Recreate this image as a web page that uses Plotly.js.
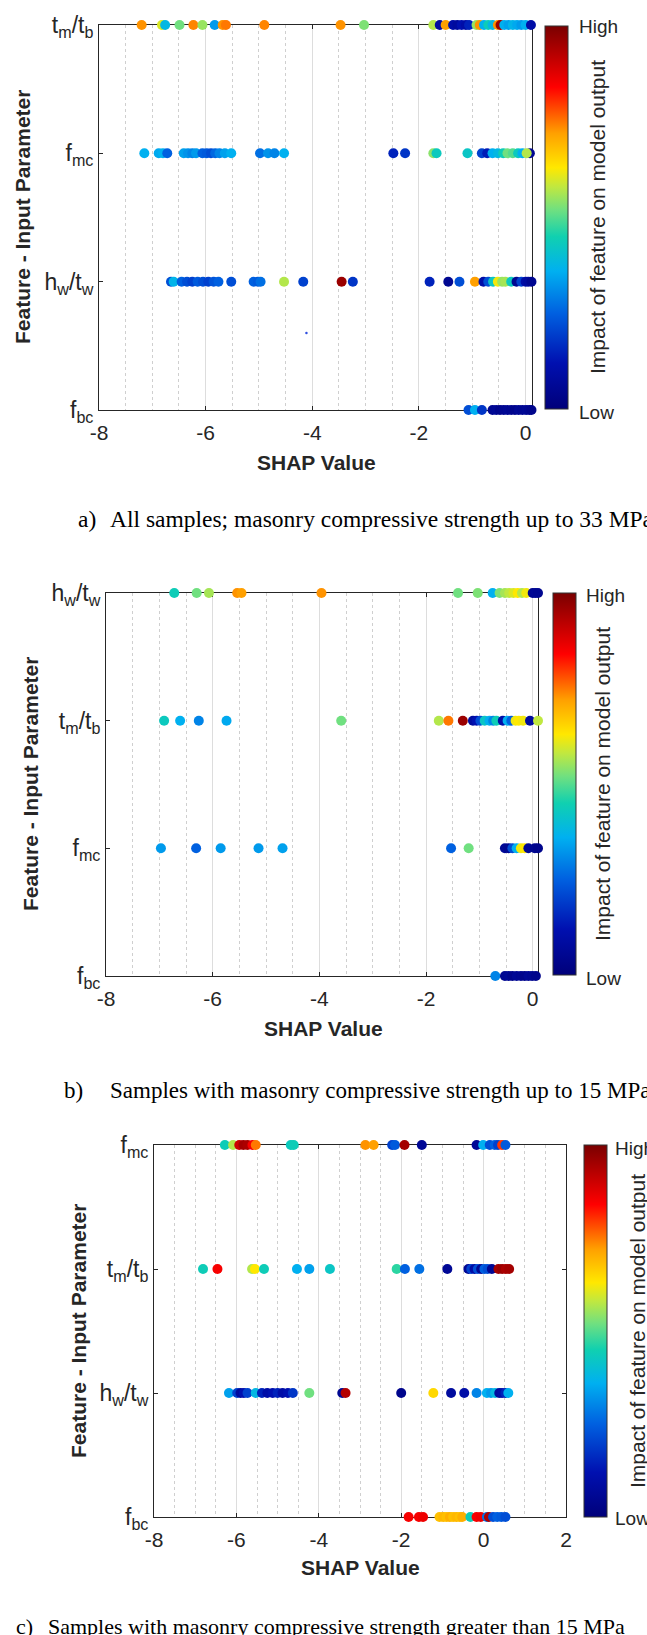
<!DOCTYPE html>
<html><head><meta charset="utf-8">
<script src="https://cdn.plot.ly/plotly-3.0.1.min.js"></script>
<style>html,body{margin:0;padding:0;background:#fff}#chart{width:647px;height:1635px}</style>
</head><body><div id="chart"></div>
<script>
// ---------- Panel a: all samples ----------
const aRows = ['f<sub>bc</sub>','h<sub>w</sub>/t<sub>w</sub>','f<sub>mc</sub>','t<sub>m</sub>/t<sub>b</sub>'];
const aFbcX = [-1.07,-0.95,-0.82,-0.62,-0.55,-0.48,-0.41,-0.34,-0.27,-0.2,-0.13,-0.06,0.01,0.07,0.11];
const aFbcC = [0.22,0.36,0.18,0.05,0.06,0.04,0.05,0.06,0.05,0.04,0.06,0.05,0.06,0.05,0.04];
const aHwTwX = [-6.65,-6.60,-6.45,-6.35,-6.25,-6.15,-6.05,-5.95,-5.85,-5.76,-5.52,-5.10,-5.02,-4.97,-4.53,-4.17,-3.45,-3.24,-1.80,-1.45,-1.24,-0.95,-0.79,-0.70,-0.61,-0.52,-0.44,-0.38,-0.27,-0.17,-0.08,0.0,0.05,0.11];
const aHwTwC = [0.22,0.37,0.25,0.22,0.2,0.24,0.22,0.2,0.23,0.25,0.22,0.25,0.24,0.27,0.57,0.2,0.96,0.18,0.15,0.05,0.22,0.72,0.1,0.22,0.42,0.62,0.55,0.56,0.43,0.05,0.2,0.1,0.08,0.05];
const aFmcX = [-7.15,-6.88,-6.80,-6.72,-6.41,-6.33,-6.25,-6.18,-6.06,-5.98,-5.90,-5.82,-5.74,-5.64,-5.52,-4.98,-4.83,-4.71,-4.53,-2.48,-2.26,-1.73,-1.67,-1.09,-0.82,-0.72,-0.62,-0.52,-0.42,-0.34,-0.24,-0.14,-0.06,0.08,0.02];
const aFmcC = [0.36,0.35,0.36,0.25,0.34,0.32,0.3,0.33,0.25,0.24,0.22,0.26,0.3,0.34,0.36,0.27,0.32,0.3,0.36,0.15,0.18,0.54,0.43,0.42,0.2,0.14,0.36,0.38,0.44,0.52,0.5,0.43,0.36,0.05,0.57];
const aTmTbX = [-7.20,-6.82,-6.76,-6.49,-6.23,-6.06,-5.83,-5.68,-5.62,-4.90,-3.47,-3.03,-1.73,-1.61,-1.50,-1.36,-1.28,-1.20,-1.12,-1.06,-0.92,-0.86,-0.78,-0.70,-0.62,-0.52,-0.47,-0.40,-0.32,-0.24,-0.16,-0.08,0.0,0.1];
const aTmTbC = [0.73,0.60,0.38,0.52,0.74,0.55,0.33,0.73,0.75,0.74,0.73,0.53,0.57,0.08,0.72,0.1,0.08,0.12,0.1,0.15,0.55,0.73,0.36,0.44,0.38,0.73,0.96,0.36,0.34,0.37,0.35,0.33,0.36,0.1];
const aStrayX = [-4.11];
const aStrayY = [1.6];

// ---------- Panel b: strength up to 15 MPa ----------
const bRows = ['f<sub>bc</sub>','f<sub>mc</sub>','t<sub>m</sub>/t<sub>b</sub>','h<sub>w</sub>/t<sub>w</sub>'];
const bFbcX = [-0.70,-0.52,-0.45,-0.38,-0.30,-0.22,-0.15,-0.08,-0.01,0.06,0.12,0.16];
const bFbcC = [0.3,0.05,0.06,0.04,0.06,0.05,0.04,0.06,0.05,0.04,0.05,0.06];
const bFmcX = [-6.97,-6.31,-5.85,-5.14,-4.69,-1.53,-1.20,-0.52,-0.45,-0.38,-0.30,-0.22,-0.15,-0.08,0.04,0.1];
const bFmcC = [0.33,0.25,0.33,0.33,0.34,0.25,0.52,0.06,0.05,0.22,0.36,0.62,0.63,0.06,0.05,0.04];
const bTmTbX = [-6.91,-6.61,-6.26,-5.74,-3.59,-1.76,-1.58,-1.31,-1.12,-1.05,-0.98,-0.90,-0.81,-0.74,-0.68,-0.56,-0.47,-0.40,-0.32,-0.26,-0.18,-0.05,0.1];
const bTmTbC = [0.43,0.36,0.3,0.35,0.52,0.57,0.75,0.96,0.08,0.12,0.22,0.42,0.36,0.3,0.44,0.1,0.36,0.25,0.62,0.63,0.62,0.08,0.58];
const bHwTwX = [-6.72,-6.30,-6.07,-5.54,-5.46,-3.96,-1.40,-1.03,-0.75,-0.62,-0.52,-0.44,-0.36,-0.28,-0.20,-0.12,0.0,0.05,0.1];
const bHwTwC = [0.44,0.52,0.56,0.73,0.72,0.73,0.52,0.53,0.36,0.53,0.56,0.58,0.6,0.63,0.57,0.62,0.05,0.06,0.05];

// ---------- Panel c: strength greater than 15 MPa ----------
const cRows = ['f<sub>bc</sub>','h<sub>w</sub>/t<sub>w</sub>','t<sub>m</sub>/t<sub>b</sub>','f<sub>mc</sub>'];
const cFbcX = [-1.82,-1.57,-1.47,-1.07,-0.98,-0.90,-0.82,-0.74,-0.66,-0.58,-0.52,-0.32,-0.17,-0.07,0.08,0.13,0.23,0.33,0.43,0.53];
const cFbcC = [0.85,0.85,0.86,0.68,0.69,0.68,0.7,0.68,0.69,0.68,0.7,0.44,0.85,0.86,0.27,0.94,0.22,0.25,0.24,0.22];
const cHwTwX = [-6.18,-5.98,-5.90,-5.82,-5.73,-5.53,-5.38,-5.25,-5.12,-5.00,-4.88,-4.75,-4.63,-4.23,-3.43,-3.35,-2.00,-1.22,-0.79,-0.47,-0.17,0.08,0.18,0.28,0.38,0.45,0.53,0.6];
const cHwTwC = [0.34,0.2,0.08,0.12,0.2,0.38,0.15,0.1,0.12,0.15,0.1,0.12,0.18,0.52,0.05,0.93,0.04,0.65,0.08,0.1,0.3,0.36,0.33,0.38,0.08,0.1,0.15,0.36];
const cTmTbX = [-6.81,-6.46,-5.62,-5.55,-5.33,-4.53,-4.23,-3.73,-2.11,-1.91,-1.56,-0.88,-0.37,-0.30,-0.22,-0.14,-0.06,0.02,0.1,0.2,0.36,0.45,0.54,0.62];
const cTmTbC = [0.44,0.85,0.57,0.63,0.44,0.36,0.34,0.42,0.47,0.25,0.27,0.06,0.06,0.2,0.1,0.22,0.06,0.25,0.22,0.06,0.95,0.96,0.94,0.95];
const cFmcX = [-6.28,-6.08,-5.93,-5.83,-5.73,-5.61,-5.53,-4.68,-4.61,-2.87,-2.67,-2.22,-2.15,-1.92,-1.50,-0.17,-0.01,0.15,0.27,0.35,0.45,0.53];
const cFmcC = [0.44,0.57,0.9,0.95,0.94,0.85,0.75,0.43,0.44,0.73,0.72,0.2,0.24,0.95,0.06,0.06,0.36,0.22,0.25,0.2,0.8,0.24];

// ---------- Tick labels and texts ----------
const abTickVals = [-8,-6,-4,-2,0];
const abTickText = ['-8','-6','-4','-2','0'];
const cTickVals = [-8,-6,-4,-2,0,2];
const cTickText = ['-8','-6','-4','-2','0','2'];
const yTitle = 'Feature - Input Parameter';
const xTitle = 'SHAP Value';
const cbTitle = 'Impact of feature on model output';
const captionLabels = ['a)','b)','c)'];
const captionTexts = ['All samples; masonry compressive strength up to 33 MPa',
                      'Samples with masonry compressive strength up to 15 MPa',
                      'Samples with masonry compressive strength greater than 15 MPa'];

// ---------- Layout helpers ----------
const W = 647, H = 1635;
const PX = x => x / W, PY = y => 1 - y / H;
const SANS = 'Liberation Sans, Arial, sans-serif';
const SERIF = 'Liberation Serif, Times New Roman, serif';
const TXT = '#262626';
const jet = [[0,'#00007a'],[0.12,'#0010b0'],[0.25,'#0060e0'],[0.36,'#00b0f0'],[0.45,'#10d0b0'],
             [0.52,'#70e080'],[0.58,'#c0e840'],[0.63,'#ffe800'],[0.72,'#ffa000'],[0.78,'#ff5000'],
             [0.84,'#ff0000'],[1,'#7a0000']];

const panels = [
  {rows:aRows, series:[[aFbcX,aFbcC],[aHwTwX,aHwTwC],[aFmcX,aFmcC],[aTmTbX,aTmTbC]], xr:[-8,0.12],
   tv:abTickVals, tt:abTickText,
   box:[99,532,25,410], cb:[545,26,409], hi:[577,27], lo:[577,413], yt:[23,217], xt:[316,462], ct:[598,217],
   cap:[76,108,519], capSize:23.5},
  {rows:bRows, series:[[bFbcX,bFbcC],[bFmcX,bFmcC],[bTmTbX,bTmTbC],[bHwTwX,bHwTwC]], xr:[-8,0.1],
   tv:abTickVals, tt:abTickText,
   box:[106,538,593,976], cb:[553,593,975], hi:[584,595], lo:[584,978], yt:[31,784], xt:[323,1028], ct:[603,784],
   cap:[62,108,1090], capSize:23},
  {rows:cRows, series:[[cFbcX,cFbcC],[cHwTwX,cHwTwC],[cTmTbX,cTmTbC],[cFmcX,cFmcC]], xr:[-8,2],
   tv:cTickVals, tt:cTickText,
   box:[154,566,1145,1517], cb:[584,1145,1517], hi:[613,1148], lo:[613,1518], yt:[78,1331], xt:[360,1567], ct:[637,1331],
   cap:[14,46,1626], capSize:22}
];

const data = [];
const layout = {width:W, height:H, margin:{l:0,r:0,t:0,b:0}, paper_bgcolor:'#fff', plot_bgcolor:'#fff',
  showlegend:false, font:{family:SANS, color:TXT}, annotations:[]};

panels.forEach((p, k) => {
  const s = k === 0 ? '' : String(k + 1);
  const ca = 'coloraxis' + s;
  layout['xaxis' + s] = {domain:[PX(p.box[0]), PX(p.box[1])], range:p.xr, anchor:'y' + s,
    tickmode:'array', tickvals:p.tv, ticktext:p.tt, ticks:'inside', ticklen:4, tickcolor:TXT,
    showline:true, linecolor:TXT, linewidth:1, mirror:'ticks', showgrid:true, gridcolor:'#dddddd',
    zeroline:false, minor:{tickmode:'linear', tick0:0, dtick:0.5, showgrid:true, gridcolor:'#cfcfcf', griddash:'dot', ticks:''},
    tickfont:{size:21, color:TXT, family:SANS}, ticklabelstandoff:4, layer:'below traces', fixedrange:true};
  layout['yaxis' + s] = {domain:[PY(p.box[3]), PY(p.box[2])], range:[1,4], anchor:'x' + s,
    tickmode:'array', tickvals:[1,2,3,4], ticktext:p.rows, ticks:'inside', ticklen:4, tickcolor:TXT,
    showline:true, linecolor:TXT, linewidth:1, mirror:'ticks', showgrid:false, zeroline:false,
    tickfont:{size:23, color:TXT, family:SANS}, layer:'below traces', fixedrange:true};
  layout[ca] = {cmin:0, cmax:1, colorscale:jet, colorbar:{x:PX(p.cb[0]), xanchor:'left',
    y:PY((p.cb[1] + p.cb[2]) / 2), yanchor:'middle', len:p.cb[2] - p.cb[1], lenmode:'pixels',
    thickness:23, thicknessmode:'pixels', xpad:0, ypad:0, showticklabels:false, ticks:'',
    outlinewidth:1, outlinecolor:'#333'}};
  p.series.forEach((ser, i) => {
    data.push({type:'scatter', mode:'markers', x:ser[0], y:ser[0].map(() => i + 1),
      xaxis:'x' + s, yaxis:'y' + s, cliponaxis:false, hoverinfo:'skip',
      marker:{color:ser[1], coloraxis:ca, size:10, line:{width:0}}});
  });
  const A = layout.annotations;
  const ann = (x, y, text, o) => A.push(Object.assign({xref:'paper', yref:'paper', x:PX(x), y:PY(y),
    text, showarrow:false, xanchor:'center', yanchor:'middle', font:{family:SANS, size:20, color:TXT}}, o));
  ann(p.yt[0], p.yt[1], yTitle, {textangle:-90, font:{family:SANS, size:21, color:TXT, weight:'bold'}});
  ann(p.xt[0], p.xt[1], xTitle, {font:{family:SANS, size:21, color:TXT, weight:'bold'}});
  ann(p.ct[0], p.ct[1], cbTitle, {textangle:-90, font:{family:SANS, size:21, color:TXT}});
  ann(p.hi[0], p.hi[1], 'High', {xanchor:'left', font:{family:SANS, size:19, color:TXT}});
  ann(p.lo[0], p.lo[1], 'Low', {xanchor:'left', font:{family:SANS, size:19, color:TXT}});
  ann(p.cap[0], p.cap[2], captionLabels[k], {xanchor:'left', font:{family:SERIF, size:p.capSize, color:'#000'}});
  ann(p.cap[1], p.cap[2], captionTexts[k], {xanchor:'left', font:{family:SERIF, size:p.capSize, color:'#000'}});
});

// stray dot in panel a
data.push({type:'scatter', mode:'markers', x:aStrayX, y:aStrayY, xaxis:'x', yaxis:'y', hoverinfo:'skip',
  marker:{color:'#3050e0', size:2.5}});

Plotly.newPlot('chart', data, layout, {staticPlot:true, displayModeBar:false});
</script></body></html>
